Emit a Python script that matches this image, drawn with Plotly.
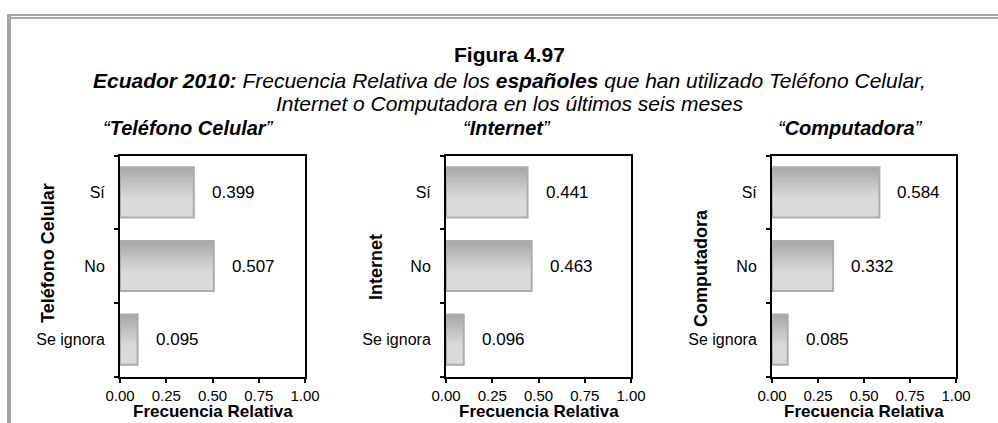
import plotly.graph_objects as go

categories = ["Se ignora", "No", "Sí"]  # bottom to top
celular = [0.095, 0.507, 0.399]
internet = [0.096, 0.463, 0.441]
computadora = [0.085, 0.332, 0.584]
panel_titles = ["Teléfono Celular", "Internet", "Computadora"]
axis_titles = ["Teléfono Celular", "Internet", "Computadora"]
x_ticks = [0, 0.25, 0.5, 0.75, 1.0]
x_title = "Frecuencia Relativa"
title1 = "Figura 4.97"
title2 = "<b>Ecuador 2010:</b> Frecuencia Relativa de los <b>españoles</b> que han utilizado Teléfono Celular,"
title3 = "Internet o Computadora en los últimos seis meses"

W, H = 998, 423
series = [celular, internet, computadora]

# pixel layout
x_px = [(120, 305), (446, 631), (772, 956)]
y_top, y_bot = 155.5, 376.5
ytitle_px = [(48, 253), (376, 267), (701, 268)]
sub_px = [188, 507, 850]
TITLE_X = 510

def px(x):
    return x / W

def py(y):
    return 1 - y / H

SANS = "Liberation Sans, Arial, sans-serif"

fig = go.Figure()

BW = 0.68
NSTRIP = 24
dark = (168, 168, 168)
light = (218, 218, 218)

for k, vals in enumerate(series):
    xa = "x" if k == 0 else f"x{k+1}"
    ya = "y" if k == 0 else f"y{k+1}"
    w = BW / NSTRIP
    for i in range(NSTRIP):
        t = min(1.0, i / (NSTRIP * 0.6))
        c = tuple(int(dark[j] + (light[j] - dark[j]) * t) for j in range(3))
        fig.add_trace(go.Bar(
            x=vals, y=categories, orientation="h", xaxis=xa, yaxis=ya,
            width=w * 1.3, offset=BW / 2 - (i + 1) * w,
            marker=dict(color=f"rgb{c}", line=dict(width=0)),
            showlegend=False, hoverinfo="skip"))
    fig.add_trace(go.Bar(
        x=vals, y=categories, orientation="h", xaxis=xa, yaxis=ya,
        width=BW, marker=dict(color="rgba(0,0,0,0)", line=dict(color="#acacac", width=2)),
        showlegend=False, hoverinfo="skip"))
    for v, c in zip(vals, categories):
        fig.add_annotation(x=v, y=c, xref=xa, yref=ya, text=f"{v:.3f}",
                           showarrow=False, xanchor="left", yanchor="middle", xshift=16,
                           font=dict(family=SANS, size=17, color="#000"))

layout = dict(
    template="none",
    width=W, height=H, margin=dict(l=0, r=0, t=0, b=0, pad=0, autoexpand=False),
    paper_bgcolor="white", plot_bgcolor="white", barmode="overlay",
    showlegend=False,
)
for k in range(3):
    sx = "" if k == 0 else str(k + 1)
    x0, x1 = x_px[k]
    layout[f"xaxis{sx}"] = dict(
        domain=[px(x0), px(x1)], range=[0, 1], anchor=f"y{sx}", automargin=False,
        tickvals=x_ticks, tickformat=".2f", ticks="outside", ticklen=4,
        tickwidth=1.5, tickcolor="black",
        showline=True, linecolor="black", linewidth=2, mirror=True,
        showgrid=False, zeroline=False, fixedrange=True,
        tickfont=dict(family=SANS, size=15, color="#000"))
    layout[f"yaxis{sx}"] = dict(
        domain=[py(y_bot), py(y_top)], anchor=f"x{sx}", automargin=False,
        type="category", categoryorder="array", categoryarray=categories,
        range=[-0.5, 2.5], tickson="boundaries", ticks="outside", ticklen=4,
        tickwidth=1.5, tickcolor="black", ticklabelstandoff=10,
        showline=True, linecolor="black", linewidth=2, mirror=True,
        showgrid=False, zeroline=False, fixedrange=True,
        tickfont=dict(family=SANS, size=16, color="#000"))
fig.update_layout(**layout)

def ann(x, y, text, size, angle=0, yanchor="middle"):
    fig.add_annotation(x=px(x), y=py(y), xref="paper", yref="paper", text=text,
                       showarrow=False, xanchor="center", yanchor=yanchor, textangle=angle,
                       font=dict(family=SANS, size=size, color="#000"))

# titles
ann(TITLE_X, 55, f"<b>{title1}</b>", 21)
ann(TITLE_X, 80, f"<i>{title2}</i>", 21)
ann(TITLE_X, 103, f"<i>{title3}</i>", 21)
for k in range(3):
    ann(sub_px[k], 128, f"<i>“<b>{panel_titles[k]}</b>”</i>", 20)
    xc, yc = ytitle_px[k]
    ann(xc, yc, f"<b>{axis_titles[k]}</b>", 18, -90)
    x0, x1 = x_px[k]
    ann((x0 + x1) / 2, 423, f"<b>{x_title}</b>", 17, yanchor="bottom")

# frame
frame = "#a6a6a6"
fig.add_shape(type="line", xref="paper", yref="paper", x0=px(7), x1=1, y0=py(15), y1=py(15),
              line=dict(color=frame, width=2))
fig.add_shape(type="line", xref="paper", yref="paper", x0=px(11), x1=1, y0=py(18), y1=py(18),
              line=dict(color=frame, width=2))
fig.add_shape(type="line", xref="paper", yref="paper", x0=px(9), x1=px(9), y0=py(14), y1=0,
              line=dict(color=frame, width=4))

fig.write_html("out.html", config={"displayModeBar": False},
               post_script="document.body.style.margin='0px';")
